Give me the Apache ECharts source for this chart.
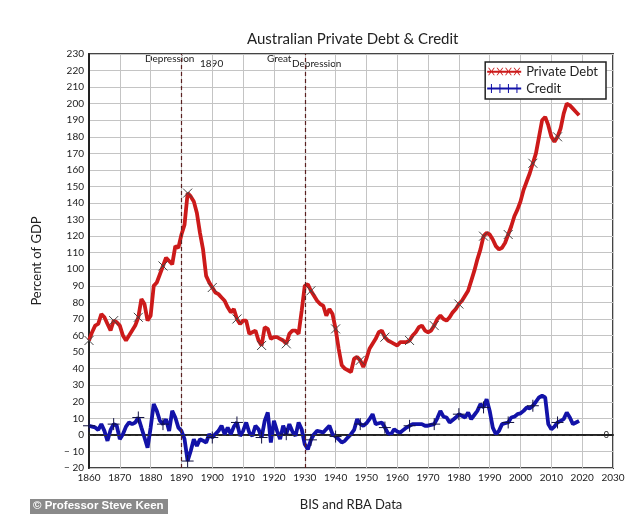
<!DOCTYPE html>
<html>
<head>
<meta charset="utf-8">
<script src="https://cdn.jsdelivr.net/npm/echarts@6/dist/echarts.min.js"></script>
<style>
html,body{margin:0;padding:0;background:#fff;}
#chart{width:640px;height:525px;}
</style>
</head>
<body>
<div id="chart"></div>
<script>
// ---- data ----
const debtStartYear = 1860;
const debtValues = [
 57,62,66,67,73,71,67,63,69,68,
 66,60,57,60,63,66,71,82,79,69,
 72,90,92,97,102,107,105,103,114,113,
 121,127,146,144,141,134,122,112,96,92,
 89,86,85,83,81,77,74,76,70,67,
 69,69,61,62,63,57,54,65,64,58,
 59,59,58,57,55,61,63,63,61,75,
 90,91,87,84,81,79,78,72,76,73,
 64,52,42,40,39,38,46,47,45,41,
 46,52,55,58,62,63,59,57,56,55,
 54,56,56,56,57,60,62,65,66,63,
 62,63,66,70,72,70,69,71,74,76,
 79,81,84,87,93,99,106,112,120,122,
 121,118,114,112,113,116,121,126,132,136,
 141,148,153,158,164,170,180,190,192,187,
 180,177,180,185,194,200,199,197,195,193
];
const creditStartYear = 1860;
const creditValues = [
 5.5,5,4.5,3,6.5,2.4,-3.6,3,6.5,5.5,
 -2.6,0.4,5,7.5,6.5,7.5,10.5,4.4,-1.6,-7.7,
 4.4,18.6,14.5,8.5,6.5,9.5,2.4,14.5,10.5,4.4,
 2.4,-2.6,-15.8,-9.7,-2.6,-6.7,-2.6,-3.5,-4.6,0.4,
 -1.6,0.5,2.4,5.5,0.4,4.4,0.4,5,7.5,-0.6,
 2.4,7.5,1.4,-0.6,5.5,3.4,-1.6,8.5,13.5,-4.6,
 8.5,2.4,-2.6,5.5,0.4,6.5,2,-0.6,7.5,3.4,
 -5.7,-8.7,-3,0.4,2.4,2,1.4,3.5,5.5,0.4,
 -1,-2.6,-4.6,-3.6,-1.5,0.4,3,9.5,6.5,5.5,
 7,9.5,12.5,6.5,7,7.5,4.4,1,0.4,3.4,
 2,1.4,3,4.4,5.5,6.5,6.5,6.5,6.5,5.5,
 5.5,6,6.5,10,14.5,11,10.5,7.5,9,10.5,
 12.5,11.5,10.5,13.5,9.5,12,14.5,18.6,16.6,21.6,
 14.5,4.4,0.4,2.4,6.5,7,7.5,10.5,11,12.5,
 13,14.5,16.6,16,17.6,20,22.6,23.6,22.6,6.5,
 3.4,5,7.5,8.5,9.5,13.5,10.5,6.5,7.5,8.5
];
const seriesNames = ['Private Debt', 'Credit'];
const depressionYears = [1890, 1930];
const xMin = 1860, xMax = 2030, xStep = 10;
const yMin = -20, yMax = 230, yStep = 10;

const debtData = debtValues.map((v, i) => [debtStartYear + i, v]);
const creditData = creditValues.map((v, i) => [creditStartYear + i, v]);

const DEBT_COLOR = '#cc1a1a';
const CREDIT_COLOR = '#1212a8';

const xPath = (function(){
  let p = 'M0,5L40,5L40,7.4L0,7.4Z';
  [5,15,25,35].forEach(c => {
    p += `M${c-4},1.5L${c-2.8},1.5L${c+4},10.5L${c+2.8},10.5Z`;
    p += `M${c+2.8},1.5L${c+4},1.5L${c-2.8},10.5L${c-4},10.5Z`;
  });
  return 'path://' + p;
})();
const plusPath = (function(){
  let p = 'M0,5L40,5L40,7.4L0,7.4Z';
  [5,15,25,35].forEach(c => {
    p += `M${c-0.6},1L${c+0.6},1L${c+0.6},11.4L${c-0.6},11.4Z`;
  });
  return 'path://' + p;
})();

const FONT = 'Lato, "Open Sans", sans-serif';

const chart = echarts.init(document.getElementById('chart'));
chart.setOption({
  backgroundColor: '#fff',
  animation: false,
  title: {
    text: 'Australian Private Debt & Credit',
    left: 242, top: 27,
    textStyle: { fontFamily: FONT, fontSize: 15, fontWeight: 'normal', color: '#222' }
  },
  legend: {
    orient: 'vertical',
    right: 34, top: 62,
    padding: [3, 8, 4, 2],
    itemGap: 4,
    itemWidth: 34, itemHeight: 12,
    backgroundColor: '#fff',
    borderColor: '#222', borderWidth: 1.5,
    textStyle: { fontFamily: FONT, fontSize: 13, color: '#222' },
    data: [
      { name: seriesNames[0], icon: xPath, itemStyle: { color: DEBT_COLOR, borderWidth: 0 } },
      { name: seriesNames[1], icon: plusPath, itemStyle: { color: CREDIT_COLOR, borderWidth: 0 } }
    ]
  },
  grid: {
    left: 89, right: 27, top: 54, bottom: 57,
    show: true, borderColor: '#444', borderWidth: 2
  },
  xAxis: {
    type: 'value', min: xMin, max: xMax, interval: xStep,
    name: 'BIS and RBA Data', nameLocation: 'middle', nameGap: 30,
    nameTextStyle: { fontFamily: FONT, fontSize: 13, color: '#222' },
    axisLine: { lineStyle: { color: '#222', width: 2 } },
    axisTick: { show: false },
    axisLabel: { fontFamily: FONT, fontSize: 10, color: '#222', margin: 5, formatter: v => String(v) },
    splitLine: { lineStyle: { color: '#c4c4c4', width: 1 } }
  },
  yAxis: {
    type: 'value', min: yMin, max: yMax, interval: yStep,
    name: 'Percent of GDP', nameLocation: 'middle', nameGap: 46,
    nameTextStyle: { fontFamily: FONT, fontSize: 13, color: '#222' },
    axisLine: { show: true, lineStyle: { color: '#222', width: 2 } },
    axisTick: { show: false },
    axisLabel: { fontFamily: FONT, fontSize: 10, color: '#222', margin: 5,
      formatter: v => v < 0 ? '\u2212 ' + Math.abs(v) : String(v) },
    splitLine: { lineStyle: { color: '#c4c4c4', width: 1 } }
  },
  series: [
    {
      name: seriesNames[0], type: 'line', data: debtData,
      showSymbol: true, showAllSymbol: true,
      symbol: (v, p) => (p.dataIndex % 8 === 0 ? 'path://M0,0L10,10M0,10L10,0' : 'none'),
      symbolSize: 9,
      lineStyle: { color: DEBT_COLOR, width: 3.8 },
      itemStyle: { color: 'rgba(0,0,0,0)', borderColor: '#444', borderWidth: 1 },
      emphasis: { disabled: true },
      z: 3,
      markLine: {
        silent: true, symbol: 'none',
        label: { show: false },
        lineStyle: { color: '#5a2020', type: [4, 3], width: 1.2 },
        data: depressionYears.map(y => ({ xAxis: y }))
      }
    },
    {
      name: seriesNames[1], type: 'line', data: creditData,
      showSymbol: true, showAllSymbol: true,
      symbol: (v, p) => (p.dataIndex % 8 === 0 ? 'path://M5,0L5,10M0,5L10,5' : 'none'),
      symbolSize: 12,
      lineStyle: { color: CREDIT_COLOR, width: 3.8 },
      itemStyle: { color: 'rgba(0,0,0,0)', borderColor: '#111140', borderWidth: 1 },
      emphasis: { disabled: true },
      z: 4,
      markLine: {
        silent: true, symbol: 'none',
        lineStyle: { color: '#333', type: [4, 3], width: 1.2 },
        label: { show: true, position: 'end', formatter: '0', fontFamily: FONT, fontSize: 9, color: '#222', distance: 3 },
        data: [[{ coord: [xMin, 0] }, { coord: [2026, 0] }]]
      }
    }
  ],
  graphic: [
    { type: 'text', left: 145, top: 54, style: { text: 'Depression', font: '10px ' + FONT, fill: '#222' } },
    { type: 'text', left: 200, top: 59, style: { text: '1890', font: '10px ' + FONT, fill: '#222' } },
    { type: 'text', left: 267, top: 54, style: { text: 'Great', font: '10px ' + FONT, fill: '#222' } },
    { type: 'text', left: 292, top: 59, style: { text: 'Depression', font: '10px ' + FONT, fill: '#222' } },
    { type: 'rect', left: 30, top: 499, shape: { width: 138, height: 15 }, style: { fill: '#8a8a8a' } },
    { type: 'text', left: 33, top: 500, style: { text: '\u00a9 Professor Steve Keen', font: 'bold 11.5px Arial, "Liberation Sans", sans-serif', fill: '#fff' } }
  ]
});
</script>
</body>
</html>
